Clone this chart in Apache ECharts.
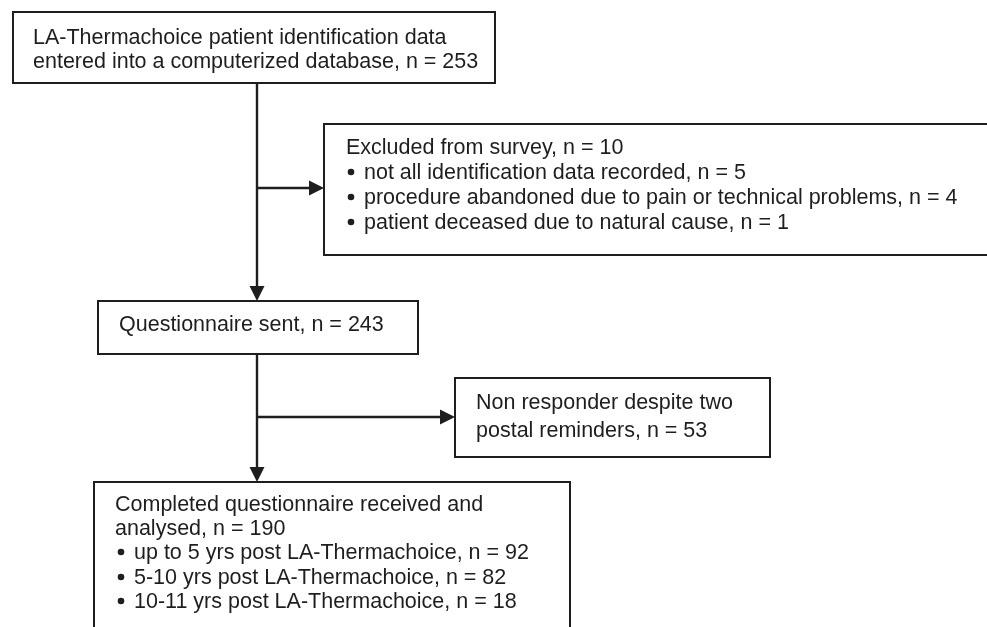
<!DOCTYPE html>
<html>
<head>
<meta charset="utf-8">
<script src="https://cdn.jsdelivr.net/npm/echarts@6/dist/echarts.min.js"></script>
<style>
html,body{margin:0;padding:0;background:#fff;}
#chart{width:987px;height:627px;}
</style>
</head>
<body>
<div id="chart"></div>
<script>
// ---- data ----
const mainSteps = [
  'LA-Thermachoice patient identification data\nentered into a computerized database',
  'Questionnaire sent',
  'Completed questionnaire received and\nanalysed'
];
const mainCounts = [253, 243, 190];
const sideSteps = ['Excluded from survey', 'Non responder despite two\npostal reminders'];
const sideCounts = [10, 53];
const exclusionReasons = [
  'not all identification data recorded',
  'procedure abandoned due to pain or technical problems',
  'patient deceased due to natural cause'
];
const exclusionCounts = [5, 4, 1];
const followUpGroups = [
  'up to 5 yrs post LA-Thermachoice',
  '5-10 yrs post LA-Thermachoice',
  '10-11 yrs post LA-Thermachoice'
];
const followUpCounts = [92, 82, 18];

// ---- content built from data ----
function headLines(label, n) {
  const parts = label.split('\n');
  parts[parts.length - 1] += ', n = ' + n;
  return parts.map(t => ({ bullet: false, text: t }));
}
function bulletLines(labels, counts) {
  return labels.map((t, i) => ({ bullet: true, text: t + ', n = ' + counts[i] }));
}
const boxContents = [
  headLines(mainSteps[0], mainCounts[0]),
  headLines(sideSteps[0], sideCounts[0]).concat(bulletLines(exclusionReasons, exclusionCounts)),
  headLines(mainSteps[1], mainCounts[1]),
  headLines(sideSteps[1], sideCounts[1]),
  headLines(mainSteps[2], mainCounts[2]).concat(bulletLines(followUpGroups, followUpCounts))
];

// ---- layout (positions / sizes) ----
const boxLayout = [
  { x0: 13,  y0: 12,  x1: 495, y1: 83,  tx: 33,  lines: [38, 62] },
  { x0: 324, y0: 124, x1: 995, y1: 255, tx: 346, bx: 348, btx: 364, lines: [148, 173, 198, 223] },
  { x0: 98,  y0: 301, x1: 418, y1: 354, tx: 119, lines: [325] },
  { x0: 455, y0: 378, x1: 770, y1: 457, tx: 476, lines: [403, 431] },
  { x0: 94,  y0: 482, x1: 570, y1: 645, tx: 115, bx: 118, btx: 134, lines: [505, 529, 553, 578, 602] }
];
const arrowLayout = [
  { x0: 257, y0: 83,  x1: 257, y1: 301 },
  { x0: 257, y0: 188, x1: 324, y1: 188 },
  { x0: 257, y0: 354, x1: 257, y1: 482 },
  { x0: 257, y0: 417, x1: 455, y1: 417 }
];
const INK = '#1e1e1e';
const FONT = '21.5px "Liberation Sans", Arial, Helvetica, sans-serif';

function renderBox(params, api) {
  const i = api.value(0);
  const L = boxLayout[i];
  const p0 = api.coord([L.x0, L.y0]);
  const p1 = api.coord([L.x1, L.y1]);
  const children = [{
    type: 'rect',
    shape: { x: p0[0], y: p0[1], width: p1[0] - p0[0], height: p1[1] - p0[1] },
    style: { fill: '#fff', stroke: INK, lineWidth: 2 }
  }];
  boxContents[i].forEach((ln, k) => {
    const y = api.coord([0, L.lines[k]])[1];
    if (ln.bullet) {
      const b = api.coord([L.bx + 3, L.lines[k]]);
      children.push({ type: 'circle', shape: { cx: b[0], cy: b[1] - 1, r: 3.3 }, style: { fill: INK } });
      children.push({ type: 'text', style: { text: ln.text, x: api.coord([L.btx, 0])[0], y: y, font: FONT, fill: INK, textVerticalAlign: 'middle', textAlign: 'left' } });
    } else {
      children.push({ type: 'text', style: { text: ln.text, x: api.coord([L.tx, 0])[0], y: y, font: FONT, fill: INK, textVerticalAlign: 'middle', textAlign: 'left' } });
    }
  });
  return { type: 'group', children: children };
}

function renderArrow(params, api) {
  const A = arrowLayout[api.value(0)];
  const s = api.coord([A.x0, A.y0]);
  const e = api.coord([A.x1, A.y1]);
  const dx = e[0] - s[0], dy = e[1] - s[1];
  const len = Math.sqrt(dx * dx + dy * dy);
  const ux = dx / len, uy = dy / len;
  const head = 15, half = 7.5;
  const bx = e[0] - ux * head, by = e[1] - uy * head;
  return {
    type: 'group',
    children: [
      { type: 'line', shape: { x1: s[0], y1: s[1], x2: bx, y2: by }, style: { stroke: INK, lineWidth: 2.4 } },
      { type: 'polygon', shape: { points: [[e[0], e[1]], [bx - uy * half, by + ux * half], [bx + uy * half, by - ux * half]] }, style: { fill: INK } }
    ]
  };
}

const chart = echarts.init(document.getElementById('chart'), null, { renderer: 'canvas' });
chart.setOption({
  animation: false,
  backgroundColor: '#fff',
  grid: { left: 0, right: 0, top: 0, bottom: 0 },
  xAxis: { type: 'value', min: 0, max: 987, show: false },
  yAxis: { type: 'value', min: 0, max: 627, inverse: true, show: false },
  series: [
    { type: 'custom', clip: false, silent: true, renderItem: renderArrow, data: arrowLayout.map((a, i) => [i]) },
    { type: 'custom', clip: false, silent: true, renderItem: renderBox, data: boxLayout.map((b, i) => [i]) }
  ]
});
</script>
</body>
</html>
